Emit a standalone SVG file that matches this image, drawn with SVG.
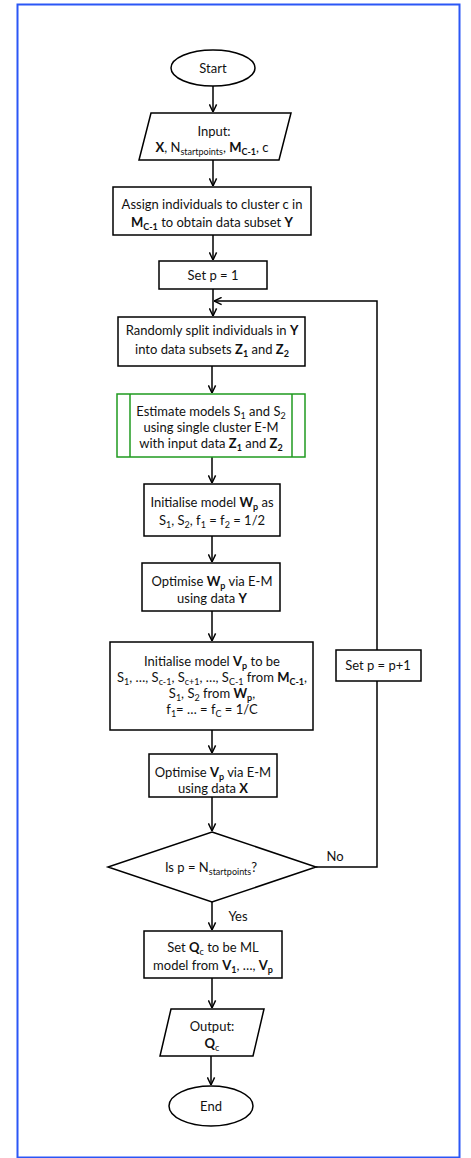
<svg xmlns="http://www.w3.org/2000/svg" width="471" height="1158" viewBox="0 0 471 1158">
<style>
.s{fill:#fff;stroke:#000;stroke-width:1.5}
.g{fill:#fff;stroke:#1f9a1f;stroke-width:1.5}
.gl{fill:none;stroke:#1f9a1f;stroke-width:1.5}
.c{fill:none;stroke:#000;stroke-width:1.5}
text{font-family:Lato,"Open Sans","Liberation Sans",sans-serif;font-size:13px;fill:#111;text-anchor:middle}
.b{font-weight:bold}
.u{font-size:9px}
</style>
<defs>
<marker id="ah" viewBox="0 0 10 10" refX="9.5" refY="5" markerWidth="9" markerHeight="9" markerUnits="userSpaceOnUse" orient="auto">
<path d="M1,1 L9.5,5 L1,9" fill="none" stroke="#000" stroke-width="1.6"/>
</marker>
</defs>
<rect width="471" height="1158" fill="#fff"/>
<rect x="17.5" y="4.5" width="442" height="1153" fill="none" stroke="#2b57f6" stroke-width="2"/>
<g id="connectors">
<line class="c" x1="213" y1="86" x2="213" y2="112" marker-end="url(#ah)"/>
<line class="c" x1="213" y1="160" x2="213" y2="186" marker-end="url(#ah)"/>
<line class="c" x1="213" y1="235" x2="213" y2="260" marker-end="url(#ah)"/>
<line class="c" x1="213" y1="289" x2="213" y2="316" marker-end="url(#ah)"/>
<line class="c" x1="212" y1="366" x2="212" y2="393" marker-end="url(#ah)"/>
<line class="c" x1="212" y1="457" x2="212" y2="483" marker-end="url(#ah)"/>
<line class="c" x1="212" y1="536" x2="212" y2="562" marker-end="url(#ah)"/>
<line class="c" x1="212" y1="611" x2="212" y2="641" marker-end="url(#ah)"/>
<line class="c" x1="212" y1="730" x2="212" y2="753" marker-end="url(#ah)"/>
<line class="c" x1="212" y1="797" x2="212" y2="831" marker-end="url(#ah)"/>
<line class="c" x1="212" y1="902" x2="212" y2="930" marker-end="url(#ah)"/>
<line class="c" x1="212" y1="978" x2="212" y2="1008" marker-end="url(#ah)"/>
<line class="c" x1="211" y1="1056" x2="211" y2="1085" marker-end="url(#ah)"/>
<polyline class="c" points="316,867 377,867 377,681"/>
<polyline class="c" points="377,650 377,301 214,301" marker-end="url(#ah)"/>
<text x="335" y="861">No</text>
<text x="238" y="921">Yes</text>
</g>
<g id="start">
<ellipse class="s" cx="213" cy="68" rx="42" ry="18"/>
<text x="213" y="73">Start</text>
</g>
<g id="input">
<polygon class="s" points="151,113 291,113 279,160 139,160"/>
<text x="214" y="136">Input:</text>
<text x="212" y="152"><tspan class="b">X</tspan>, N<tspan class="u" dy="3">startpoints</tspan><tspan dy="-3">, </tspan><tspan class="b">M</tspan><tspan class="b u" dy="3">C-1</tspan><tspan dy="-3">, c</tspan></text>
</g>
<g id="assign">
<rect class="s" x="113" y="187" width="198" height="48"/>
<text x="212" y="209">Assign individuals to cluster c in</text>
<text x="212" y="227"><tspan class="b">M</tspan><tspan class="b u" dy="3">C-1</tspan><tspan dy="-3"> to obtain data subset </tspan><tspan class="b">Y</tspan></text>
</g>
<g id="setp1">
<rect class="s" x="159" y="261" width="108" height="28"/>
<text x="213" y="280">Set p = 1</text>
</g>
<g id="split">
<rect class="s" x="118" y="317" width="187" height="49"/>
<text x="212" y="335">Randomly split individuals in <tspan class="b">Y</tspan></text>
<text x="212" y="354">into data subsets <tspan class="b">Z</tspan><tspan class="b u" dy="3">1</tspan><tspan dy="-3"> and </tspan><tspan class="b">Z</tspan><tspan class="b u" dy="3">2</tspan></text>
</g>
<g id="estimate">
<rect class="g" x="117" y="394" width="188" height="63"/>
<line class="gl" x1="130" y1="394" x2="130" y2="457"/>
<line class="gl" x1="292" y1="394" x2="292" y2="457"/>
<text x="211" y="416">Estimate models S<tspan class="u" dy="3">1</tspan><tspan dy="-3"> and S</tspan><tspan class="u" dy="3">2</tspan></text>
<text x="211" y="432">using single cluster E-M</text>
<text x="211" y="448">with input data <tspan class="b">Z</tspan><tspan class="b u" dy="3">1</tspan><tspan dy="-3"> and </tspan><tspan class="b">Z</tspan><tspan class="b u" dy="3">2</tspan></text>
</g>
<g id="initW">
<rect class="s" x="144" y="484" width="136" height="52"/>
<text x="212" y="507">Initialise model <tspan class="b">W</tspan><tspan class="b u" dy="3">p</tspan><tspan dy="-3"> as</tspan></text>
<text x="212" y="525">S<tspan class="u" dy="3">1</tspan><tspan dy="-3">, S</tspan><tspan class="u" dy="3">2</tspan><tspan dy="-3">, f</tspan><tspan class="u" dy="3">1</tspan><tspan dy="-3"> = f</tspan><tspan class="u" dy="3">2</tspan><tspan dy="-3"> = 1/2</tspan></text>
</g>
<g id="optW">
<rect class="s" x="142" y="563" width="138" height="48"/>
<text x="212" y="586">Optimise <tspan class="b">W</tspan><tspan class="b u" dy="3">p</tspan><tspan dy="-3"> via E-M</tspan></text>
<text x="212" y="603">using data <tspan class="b">Y</tspan></text>
</g>
<g id="initV">
<rect class="s" x="110" y="642" width="203" height="88"/>
<text x="212" y="666">Initialise model <tspan class="b">V</tspan><tspan class="b u" dy="3">p</tspan><tspan dy="-3"> to be</tspan></text>
<text x="212" y="682">S<tspan class="u" dy="3">1</tspan><tspan dy="-3">, …, S</tspan><tspan class="u" dy="3">c-1</tspan><tspan dy="-3">, S</tspan><tspan class="u" dy="3">c+1</tspan><tspan dy="-3">, …, S</tspan><tspan class="u" dy="3">C-1</tspan><tspan dy="-3"> from </tspan><tspan class="b">M</tspan><tspan class="b u" dy="3">C-1</tspan><tspan dy="-3">,</tspan></text>
<text x="212" y="698">S<tspan class="u" dy="3">1</tspan><tspan dy="-3">, S</tspan><tspan class="u" dy="3">2</tspan><tspan dy="-3"> from </tspan><tspan class="b">W</tspan><tspan class="b u" dy="3">p</tspan><tspan dy="-3">,</tspan></text>
<text x="212" y="714">f<tspan class="u" dy="3">1</tspan><tspan dy="-3">= … = f</tspan><tspan class="u" dy="3">C</tspan><tspan dy="-3"> = 1/C</tspan></text>
</g>
<g id="optV">
<rect class="s" x="149" y="754" width="128" height="43"/>
<text x="213" y="777">Optimise <tspan class="b">V</tspan><tspan class="b u" dy="3">p</tspan><tspan dy="-3"> via E-M</tspan></text>
<text x="213" y="793">using data <tspan class="b">X</tspan></text>
</g>
<g id="decision">
<polygon class="s" points="212,832 316,867 212,902 108,867"/>
<text x="211" y="872">Is p = N<tspan class="u" dy="3">startpoints</tspan><tspan dy="-3">?</tspan></text>
</g>
<g id="setpp1">
<rect class="s" x="336" y="650" width="85" height="31"/>
<text x="378" y="670">Set p = p+1</text>
</g>
<g id="setQ">
<rect class="s" x="144" y="931" width="138" height="47"/>
<text x="213" y="952">Set <tspan class="b">Q</tspan><tspan class="u" dy="3">c</tspan><tspan dy="-3"> to be ML</tspan></text>
<text x="213" y="970">model from <tspan class="b">V</tspan><tspan class="b u" dy="3">1</tspan><tspan dy="-3">, …, </tspan><tspan class="b">V</tspan><tspan class="b u" dy="3">p</tspan></text>
</g>
<g id="output">
<polygon class="s" points="171,1009 264,1009 253,1056 160,1056"/>
<text x="212" y="1031">Output:</text>
<text x="212" y="1048"><tspan class="b">Q</tspan><tspan class="u" dy="3">c</tspan></text>
</g>
<g id="end">
<ellipse class="s" cx="211" cy="1106" rx="42" ry="20"/>
<text x="211" y="1111">End</text>
</g>
</svg>
